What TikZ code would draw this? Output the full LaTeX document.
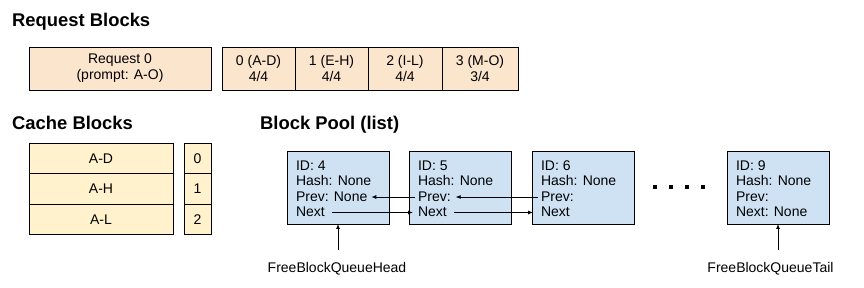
\documentclass[tikz,border=0pt]{standalone}
\usepackage{fontspec}
\setmainfont{Liberation Sans}
\usetikzlibrary{arrows.meta}
\definecolor{reqfill}{HTML}{FCE5CD}
\definecolor{cachefill}{HTML}{FFF2CC}
\definecolor{poolfill}{HTML}{CFE2F3}
\tikzset{
  cell/.style={draw=black, line width=0.8pt, inner sep=0pt, outer sep=0pt, align=center,
    font=\fontsize{14}{16}\selectfont},
  reqcell/.style={cell, fill=reqfill, minimum height=43pt},
  cachecell/.style={cell, fill=cachefill, minimum height=30.5pt},
  poolbox/.style={draw=black, line width=0.8pt, fill=poolfill, inner sep=0pt, outer sep=0pt,
    minimum width=102pt, minimum height=73pt},
  txt/.style={font=\fontsize{14}{16}\selectfont, inner sep=0pt, outer sep=0pt, anchor=base west},
  lbl/.style={font=\fontsize{14}{16}\selectfont, inner sep=0pt, outer sep=0pt, anchor=base},
  ttl/.style={font=\fontsize{18.4}{20}\selectfont\bfseries, inner sep=0pt, anchor=base west},
  arr/.style={-{Latex[length=5pt,width=4pt]}, line width=0.8pt},
  dotsq/.style={fill=black, draw=none, minimum size=4pt, inner sep=0pt},
}
\begin{document}
\begin{tikzpicture}[x=1pt,y=-1pt]
\useasboundingbox (0,0) rectangle (864,288);

% titles
\node[ttl] (t1) at (12,27) {Request Blocks};
\node[ttl] (t2) at (12,130) {Cache Blocks};
\node[ttl] (t3) at (260,130) {Block Pool (list)};

% request blocks
\node[reqcell, minimum width=182pt] (req) at (120,68.5) {Request 0\\(prompt: A-O)};
\node[reqcell, minimum width=73pt] (r0) at (258.5,68.5) {0 (A-D)\\4/4};
\node[reqcell, minimum width=73pt] (r1) at (331.5,68.5) {1 (E-H)\\4/4};
\node[reqcell, minimum width=74pt] (r2) at (405,68.5) {2 (I-L)\\4/4};
\node[reqcell, minimum width=76pt] (r3) at (480,68.5) {3 (M-O)\\3/4};

% cache blocks
\node[cachecell, minimum width=144pt] (c0) at (101,158.5) {A-D};
\node[cachecell, minimum width=144pt] (c1) at (101,189) {A-H};
\node[cachecell, minimum width=144pt] (c2) at (101,219.5) {A-L};
\node[cachecell, minimum width=27pt] (n0) at (197.5,158.5) {0};
\node[cachecell, minimum width=27pt] (n1) at (197.5,189) {1};
\node[cachecell, minimum width=27pt] (n2) at (197.5,219.5) {2};

% pool boxes
\node[poolbox] (b4) at (338,187.5) {};
\node[poolbox] (b5) at (460,187.5) {};
\node[poolbox] (b6) at (583,187.5) {};
\node[poolbox] (b9) at (778,187.5) {};

\foreach \b/\id/\p/\n in {b4/4/Prev: None/Next, b5/5/Prev:/Next, b6/6/Prev:/Next, b9/9/Prev:/Next: None}{
  \node[txt] (\b i) at ([xshift=9pt,yshift=-19.5pt]\b.north west) {ID: \id};
  \node[txt] (\b h) at ([xshift=9pt,yshift=-35pt]\b.north west) {Hash: None};
  \node[txt] (\b p) at ([xshift=9pt,yshift=-50.5pt]\b.north west) {\p};
  \node[txt] (\b n) at ([xshift=9pt,yshift=-66pt]\b.north west) {\n};
}

% prev / next arrows
\draw[arr] ([xshift=-3pt,yshift=4.5pt]b5p.base west) -- ([xshift=4pt,yshift=4.5pt]b4p.base east);
\draw[arr] ([xshift=-3pt,yshift=4.5pt]b6p.base west) -- ([xshift=5pt,yshift=4.5pt]b5p.base east);
\draw[arr] ([xshift=7pt,yshift=4.5pt]b4n.base east) -- ([xshift=-5pt,yshift=4.5pt]b5n.base west);
\draw[arr] ([xshift=7pt,yshift=4.5pt]b5n.base east) -- ([xshift=-8pt,yshift=4.5pt]b6n.base west);

% dots
\foreach \i/\x in {1/655.3,2/671.3,3/687.3,4/703.3}{
  \node[dotsq] (d\i) at (\x,187.3) {};
}

% head / tail
\node[lbl] (head) at (337,272.5) {FreeBlockQueueHead};
\node[lbl] (tail) at (770.5,272.5) {FreeBlockQueueTail};
\coordinate (hs) at (338,250);
\coordinate (ts) at (778,250);
\draw[arr] (hs) -- (b4.south);
\draw[arr] (ts) -- (b9.south);
\end{tikzpicture}
\end{document}
